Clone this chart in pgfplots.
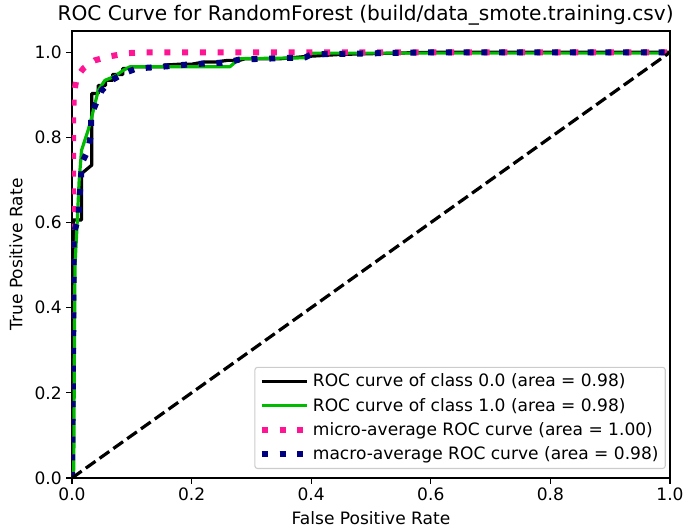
\documentclass[border=0pt]{standalone}
\usepackage{pgfplots}
\pgfplotsset{compat=1.18}
\usepackage{fontspec}
\setmainfont{DejaVu Sans}
\definecolor{mgreen}{RGB}{0,187,0}
\definecolor{dpink}{RGB}{255,20,147}
\definecolor{mnavy}{RGB}{0,0,128}
\begin{document}
\begin{tikzpicture}
\path[use as bounding box] (-54pt,-40.5pt) rectangle (461.25pt,358.5pt);
\begin{axis}[
  scale only axis,
  width=448.5pt, height=335.25pt,
  xmin=0, xmax=1, ymin=0, ymax=1.05,
  xtick={0,0.2,0.4,0.6,0.8,1.0},
  ytick={0,0.2,0.4,0.6,0.8,1.0},
  /pgf/number format/assume math mode=true,
  /pgf/number format/.cd, fixed, fixed zerofill, precision=1, /pgfplots/.cd,
  tick label style={font=\fontsize{12.8pt}{15pt}\selectfont},
  label style={font=\fontsize{12.8pt}{15pt}\selectfont},
  xlabel style={yshift=-1pt},
  ylabel style={yshift=2pt},
  title style={font=\fontsize{15.1pt}{18pt}\selectfont, yshift=-5pt, xshift=-4pt},
  title={ROC Curve for RandomForest (build/data\_smote.training.csv)},
  xlabel={False Positive Rate},
  ylabel={True Positive Rate},
  tick align=outside,
  major tick length=4.2pt,
  tick style={line width=0.96pt, black},
  axis line style={line width=0.96pt},
  xtick pos=bottom, ytick pos=left,
  legend cell align=left,
  legend style={at={(0.993,0.02)}, anchor=south east, draw=black!20, rounded corners=2pt,
    fill=white, fill opacity=0.8, text opacity=1, line width=0.8pt,
    font=\fontsize{12.8pt}{15pt}\selectfont, row sep=3pt, inner xsep=3pt, inner ysep=3pt},
  legend image code/.code={\draw[#1] (0pt,0pt) -- (28pt,0pt); \path (0pt,0pt) -- (34pt,0pt);},
]
\addplot[black, line width=2.4pt, line join=round] coordinates {
(0,0)(0.002,0.05)(0.002,0.606)(0.016,0.606)(0.016,0.715)(0.033,0.735)(0.033,0.903)
(0.044,0.903)(0.044,0.922)(0.056,0.922)(0.056,0.934)(0.068,0.934)(0.068,0.948)
(0.085,0.948)(0.085,0.962)(0.1,0.962)(0.1,0.966)(0.152,0.966)(0.155,0.970)(0.18,0.972)
(0.2,0.972)(0.22,0.977)(0.24,0.977)(0.26,0.981)(0.28,0.981)(0.29,0.985)(0.35,0.985)
(0.39,0.99)(0.45,0.995)(0.6,1)(1,1)};
\addlegendentry{ROC curve of class 0.0 (area = 0.98)}
\addplot[mgreen, line width=2.4pt, line join=round] coordinates {
(0,0)(0.003,0.02)(0.004,0.3)(0.005,0.5)(0.008,0.58)(0.012,0.7)(0.016,0.77)
(0.027,0.817)(0.033,0.848)(0.044,0.911)(0.055,0.934)(0.072,0.944)(0.086,0.958)
(0.097,0.966)(0.264,0.966)(0.28,0.985)(0.39,0.987)(0.398,0.998)(1,0.998)};
\addlegendentry{ROC curve of class 1.0 (area = 0.98)}
\addplot[dpink, line width=4.5pt, dash pattern=on 4.5pt off 8.8pt] coordinates {
(0,0)(0,0.3)(0.002,0.5)(0.002,0.85)(0.003,0.9)(0.008,0.942)(0.019,0.962)
(0.038,0.981)(0.061,0.99)(0.094,0.998)(0.12,1.0)(1,1)};
\addlegendentry{micro-average ROC curve (area = 1.00)}
\addplot[mnavy, line width=4.5pt, dash pattern=on 4.5pt off 8.8pt] coordinates {
(0,0)(0.002,0.32)(0.003,0.575)(0.011,0.613)(0.012,0.653)(0.015,0.696)(0.016,0.739)
(0.027,0.77)(0.032,0.809)(0.032,0.852)(0.041,0.883)(0.05,0.911)(0.066,0.934)
(0.086,0.95)(0.108,0.962)(0.15,0.966)(0.2,0.972)(0.26,0.976)(0.28,0.983)
(0.39,0.988)(0.4,0.995)(0.6,1)(1,1)};
\addlegendentry{macro-average ROC curve (area = 0.98)}
\addplot[black, line width=2.4pt, dash pattern=on 8.9pt off 3.8pt, forget plot] coordinates {(0,0)(1,1)};
\end{axis}
\end{tikzpicture}
\end{document}
